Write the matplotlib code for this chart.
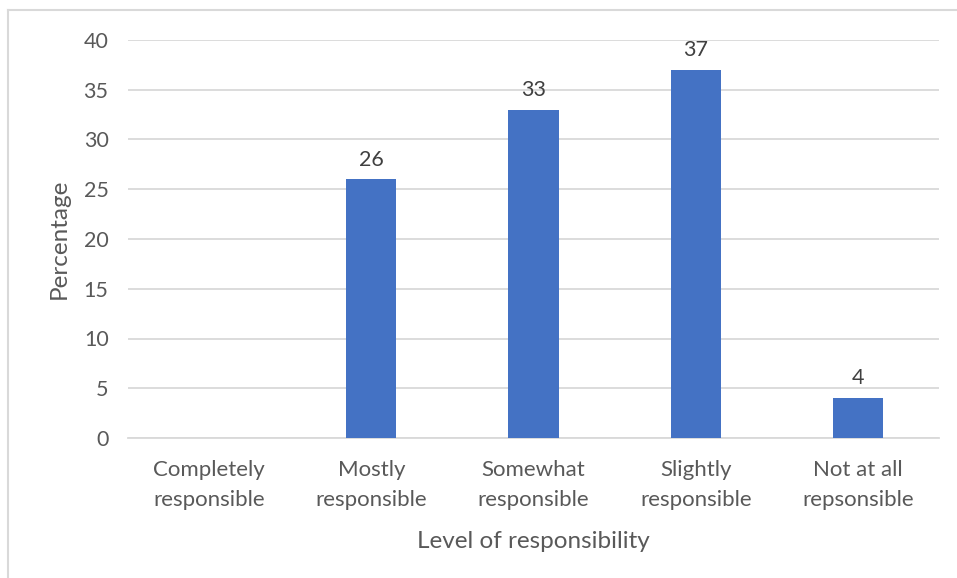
import matplotlib
matplotlib.use("Agg")
import matplotlib.pyplot as plt
from matplotlib.lines import Line2D

categories = ["Completely\nresponsible", "Mostly\nresponsible", "Somewhat\nresponsible",
              "Slightly\nresponsible", "Not at all\nrepsonsible"]
values = [0, 26, 33, 37, 4]
yticks = [0, 5, 10, 15, 20, 25, 30, 35, 40]

plt.rcParams['font.family'] = ['Lato', 'DejaVu Sans']
txt = '#595959'
fig = plt.figure(figsize=(9.57, 5.78), dpi=100)
ax = fig.add_axes([128/957, 1-438/578, (939-128)/957, (438-40)/578])

x = list(range(len(categories)))
bars = ax.bar(x, values, width=0.31, color='#4472C4', zorder=3)
for xi, v in zip(x, values):
    if v > 0:
        ax.annotate(str(v), (xi, v), xytext=(0, 7), textcoords='offset points',
                    ha='center', va='bottom', fontsize=15.5, color='#404040')

ax.set_xlim(-0.5, len(categories) - 0.5)
ax.set_ylim(0, 40)
ax.set_yticks(yticks)
ax.set_xticks(x)
ax.set_xticklabels(categories, fontsize=16, color=txt, linespacing=1.6)
ax.tick_params(axis='y', labelsize=15.5, labelcolor=txt, length=0, pad=14)
ax.tick_params(axis='x', length=0, pad=16)
ax.grid(axis='y', color='#D9D9D9', linewidth=1.3, zorder=0)
for s in ['top', 'right', 'left']:
    ax.spines[s].set_visible(False)
ax.spines['bottom'].set_color('#D9D9D9')
ax.spines['bottom'].set_linewidth(1.3)
ax.set_ylabel("Percentage", fontsize=17.5, color=txt, labelpad=10)
ax.set_xlabel("Level of responsibility", fontsize=17.5, color=txt, labelpad=15)

# outer chart frame
fig.add_artist(Line2D([8/957, 8/957], [0, 1-10/578], color='#D9D9D9', linewidth=1.5, transform=fig.transFigure))
fig.add_artist(Line2D([8/957, 1], [1-10/578, 1-10/578], color='#D9D9D9', linewidth=1.5, transform=fig.transFigure))

fig.savefig("out.png", dpi=100)
